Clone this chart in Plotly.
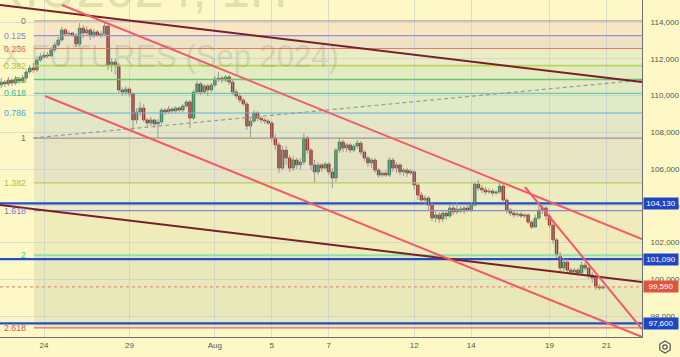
import plotly.graph_objects as go

# ---------------- data (hourly bars; bar 0 = first bar of Jul 24) ----------------
bars = list(range(-12, 158))

opens = [
    110570, 110730, 110630, 110840,
    110680, 110900, 110790, 110950, 111280, 111500, 111390, 111930,
    112100, 112200, 112150, 112480, 112750, 113020, 113570, 113350,
    113400, 113290, 112800, 113670, 113400, 113570, 113240, 113460,
    113290, 113350, 113780, 111610, 111820, 111660, 110300, 110190,
    110350, 110080, 108670, 109100, 109320, 108670, 108500, 108670,
    108450, 108560, 109210, 109100, 109260, 109160, 109320, 109210,
    109430, 109650, 108770, 110190, 110630, 110190, 110520, 110300,
    110570, 110900, 110950, 110840, 111010, 110730, 110190, 109970,
    109750, 109540, 108340, 108610, 109050, 108770, 108670, 108610,
    108500, 107690, 107310, 106050, 107030, 106600, 106050, 106490,
    106220, 106380, 107690, 107030, 106220, 105840, 106220, 106050,
    106270, 105840, 105510, 107030, 107470, 107140, 107310, 107030,
    107250, 107410, 106920, 106600, 106330, 106490, 105940, 105670,
    105780, 105670, 106490, 106050, 106220, 105840, 105940, 105780,
    105840, 105130, 104580, 104310, 104420, 104040, 103330, 103500,
    103280, 103600, 103440, 103880, 103660, 103820, 103710, 103880,
    103770, 104040, 105180, 104960, 104860, 104750, 104800, 104690,
    104750, 105070, 104310, 103770, 103600, 103500, 103550, 103440,
    103500, 103110, 102840, 103330, 103770, 103880,
    103440, 102950, 102140, 101320, 100610, 100940, 100500, 100390,
    100500, 100340, 100770, 100610, 100230, 100070, 99580, 99520,
]
highs = [
    110950, 110840, 111010, 110950,
    111060, 111010, 111120, 111440, 111660, 111770, 112100, 112310,
    112370, 112370, 112640, 112910, 113180, 113730, 113670, 113510,
    113460, 113400, 113950, 113840, 113780, 113670, 113620, 113570,
    113510, 113950, 113890, 112040, 111990, 111770, 110460, 110520,
    110460, 110190, 109320, 109650, 109540, 108770, 108830, 108720,
    108720, 109320, 109320, 109430, 109370, 109430, 109430, 109540,
    109750, 109750, 110300, 110790, 110730, 110630, 110630, 110680,
    111060, 111280, 111060, 111120, 111120, 110840, 110350, 110140,
    109860, 109650, 108770, 109210, 109160, 108880, 108770, 108720,
    108610, 107900, 107470, 107250, 107250, 106760, 106710, 106600,
    106600, 107960, 107800, 107140, 106490, 106380, 106330, 106380,
    106380, 106050, 107140, 107690, 107580, 107410, 107410, 107360,
    107580, 107520, 107030, 106710, 106600, 106600, 106050, 105890,
    105940, 106650, 106600, 106380, 106330, 106050, 106050, 106000,
    105940, 105240, 104750, 104580, 104530, 104150, 103710, 103660,
    103770, 103710, 104040, 104150, 104200, 103990, 103990, 104040,
    104200, 105290, 105400, 105130, 105020, 104960, 104910, 104860,
    105290, 105180, 104420, 103880, 103710, 103660, 103660, 103600,
    103600, 103220, 103500, 103990, 104040, 103990,
    103550, 103110, 102240, 101480, 101160, 101100, 100610, 100610,
    100610, 100940, 100940, 100720, 100390, 100180, 99740, 99690,
]
lows = [
    110410, 110460, 110520, 110520,
    110570, 110630, 110680, 110840, 111170, 111220, 111280, 111820,
    111990, 112040, 112100, 112370, 112640, 112910, 113240, 113240,
    113180, 112640, 112690, 113130, 113240, 113020, 113130, 113180,
    113130, 113240, 111390, 111280, 111120, 110140, 109970, 110030,
    109920, 108120, 108450, 108880, 108560, 108280, 108340, 108230,
    107690, 108450, 108940, 108990, 109050, 109050, 109100, 109100,
    109320, 108230, 108670, 110080, 110030, 110080, 109970, 110190,
    110460, 110730, 110680, 110730, 110570, 110030, 109810, 109590,
    109430, 108120, 107740, 108500, 108610, 108500, 108450, 108390,
    107470, 107030, 105780, 105940, 106220, 105840, 105890, 106000,
    105940, 106220, 106820, 105940, 105290, 105670, 105840, 105940,
    105670, 104960, 105290, 106870, 106920, 106920, 106870, 106920,
    107090, 106760, 106430, 106110, 106050, 105780, 105510, 105560,
    105560, 105560, 105840, 105780, 105670, 105620, 105560, 105670,
    104860, 104310, 104150, 104040, 103770, 103170, 103110, 103060,
    103110, 103220, 103330, 103500, 103550, 103600, 103550, 103660,
    103660, 103930, 104800, 104690, 104580, 104640, 104530, 104580,
    104640, 104150, 103550, 103440, 103330, 103390, 103330, 103330,
    103010, 102730, 102790, 103220, 103550, 103220,
    102790, 101920, 101160, 100450, 100450, 100390, 100230, 100280,
    100180, 100230, 100450, 100010, 99800, 99410, 99410, 99470,
]
closes = [
    110730, 110630, 110840, 110680,
    110900, 110790, 110950, 111280, 111500, 111390, 111930, 112100,
    112200, 112150, 112480, 112750, 113020, 113570, 113350, 113400,
    113290, 112800, 113670, 113400, 113570, 113240, 113460, 113290,
    113350, 113780, 111610, 111820, 111660, 110300, 110190, 110350,
    110080, 108670, 109100, 109320, 108670, 108500, 108670, 108450,
    108560, 109210, 109100, 109260, 109160, 109320, 109210, 109430,
    109650, 108770, 110190, 110630, 110190, 110520, 110300, 110570,
    110900, 110950, 110840, 111010, 110730, 110190, 109970, 109750,
    109540, 108340, 108610, 109050, 108770, 108670, 108610, 108500,
    107690, 107310, 106050, 107030, 106600, 106050, 106490, 106220,
    106380, 107690, 107030, 106220, 105840, 106220, 106050, 106270,
    105840, 105510, 107030, 107470, 107140, 107310, 107030, 107250,
    107410, 106920, 106600, 106330, 106490, 105940, 105670, 105780,
    105670, 106490, 106050, 106220, 105840, 105940, 105780, 105890,
    105130, 104580, 104310, 104420, 104040, 103330, 103500, 103280,
    103600, 103440, 103880, 103660, 103820, 103710, 103880, 103770,
    104040, 105180, 104960, 104860, 104750, 104800, 104690, 104750,
    105070, 104310, 103770, 103600, 103500, 103550, 103440, 103500,
    103110, 102840, 103330, 103770, 103880, 103440,
    102950, 102140, 101320, 100610, 100940, 100500, 100390, 100500,
    100340, 100770, 100610, 100230, 100070, 99580, 99520, 99590,
]

tick_bars = [0, 24, 48, 64, 80, 104, 120, 142, 158]
tick_labels = ["24", "29", "Aug", "5", "7", "12", "14", "19", "21"]
price_ticks = [98000, 100000, 102000, 104000, 106000, 108000, 110000, 112000, 114000]

# Fibonacci tool (anchor bar and the 0 / 1 prices)
fib_start_bar = -2.8
fib_price_0 = 114060
fib_price_1 = 107680
fib_ratios = [0, 0.125, 0.236, 0.382, 0.5, 0.618, 0.786, 1, 1.382, 1.618, 2, 2.618]
fib_labels = ["0", "0.125", "0.236", "0.382", "0.5", "0.618", "0.786", "1", "1.382", "1.618", "2", "2.618"]

# trend lines: (bar, price) endpoints
maroon_top_bars, maroon_top_prices = [-12.36, 167.98], [114925, 110734]
maroon_low_bars, maroon_low_prices = [-12.36, 167.98], [104040, 99850]
red_upper_bars, red_upper_prices = [5.06, 167.98], [114925, 102190]
red_lower_bars, red_lower_prices = [0.28, 167.98], [109970, 96860]
red_steep_bars, red_steep_prices = [135.1, 167.98], [105020, 97290]
dash_bars, dash_prices = [-3.09, 167.98], [107687, 110843]

blue_levels = [104130, 101090, 97600]
last_price = 99590

# ---------------- styling ----------------
W, H = 680, 357
ML, MR, MT, MB = 0, 38, 0, 20
PW, PH = W - ML - MR, H - MT - MB
X_RANGE = [-12.36, 167.98]
Y_RANGE = [96857, 115197]
BG = "#fdf8c6"
FONT = "Liberation Sans"

def pp(px, py):
    return (px - ML) / PW, (MT + PH - py) / PH

fib_line_colors = ["#a09c92", "#9b8fe0", "#e07a68", "#b7d65c", "#6cc46c", "#52c4a2",
                   "#62b2dc", "#9a9890", "#b4d25a", "#8a86dc", "#8ee0ac", "#e86a62"]
fib_text_colors = ["#7d7b76", "#8a7fdc", "#dc6a55", "#a4c83a", "#4caf50", "#2ebf91",
                   "#4aa3df", "#6e6d68", "#a6c63c", "#7a76d0", "#3ec99a", "#e8574c"]
fib_line_widths = [1, 1.2, 1, 1.8, 1.3, 1, 1, 1.2, 1.3, 1.2, 2, 1.3]
band_colors = ["#fbe6c2", "#ede1c6", "#eaecc4", "#e3ecc0", "#e2ebc4", "#e2e9c7",
               "#e4e7c7", "#e6e4c3", "#edebc0", "#efecba", "#e9e8b8"]

fig = go.Figure()
shapes = []

fib_prices = [fib_price_0 - r * (fib_price_0 - fib_price_1) for r in fib_ratios]
for k in range(len(fib_prices) - 1):
    shapes.append(dict(type="rect", xref="x", yref="y", layer="below",
                       x0=fib_start_bar, x1=X_RANGE[1], y0=fib_prices[k], y1=fib_prices[k + 1],
                       fillcolor=band_colors[k], line=dict(width=0)))

# fib level lines
for p, c, w in zip(fib_prices, fib_line_colors, fib_line_widths):
    fig.add_trace(go.Scatter(x=[fib_start_bar, X_RANGE[1]], y=[p, p], mode="lines",
                             line=dict(color=c, width=w), hoverinfo="skip", showlegend=False))

# grey dashed trend
fig.add_trace(go.Scatter(x=dash_bars, y=dash_prices, mode="lines",
                         line=dict(color="#9a9a94", width=1.2, dash="4px,3px"),
                         hoverinfo="skip", showlegend=False))

# blue horizontal levels
for p in blue_levels:
    fig.add_trace(go.Scatter(x=X_RANGE, y=[p, p], mode="lines",
                             line=dict(color="#1f4fcf", width=2.2), hoverinfo="skip", showlegend=False))

# last price dotted
fig.add_trace(go.Scatter(x=X_RANGE, y=[last_price, last_price], mode="lines",
                         line=dict(color="#e8907a", width=1.2, dash="dot"),
                         hoverinfo="skip", showlegend=False))

# candles: grey wicks + coloured bodies
wick_x, wick_y = [], []
for b, h, l in zip(bars, highs, lows):
    wick_x += [b, b, None]
    wick_y += [h, l, None]
fig.add_trace(go.Scatter(x=wick_x, y=wick_y, mode="lines", line=dict(color="#9b9b96", width=1),
                         hoverinfo="skip", showlegend=False))
up = [c >= o for o, c in zip(opens, closes)]
fig.add_trace(go.Bar(
    x=bars, base=[min(o, c) for o, c in zip(opens, closes)],
    y=[abs(c - o) for o, c in zip(opens, closes)], width=0.74,
    marker=dict(color=["#3a8f60" if u else "#b52c26" for u in up],
                line=dict(color=["#27663f" if u else "#7a1c18" for u in up], width=0.6)),
    hoverinfo="skip", showlegend=False))

# trend lines on top
for bx, py, col in [(maroon_top_bars, maroon_top_prices, "#7a1f28"),
                    (maroon_low_bars, maroon_low_prices, "#7a1f28"),
                    (red_upper_bars, red_upper_prices, "#f25a6a"),
                    (red_lower_bars, red_lower_prices, "#f25a6a"),
                    (red_steep_bars, red_steep_prices, "#f25a6a")]:
    fig.add_trace(go.Scatter(x=bx, y=py, mode="lines", line=dict(color=col, width=2),
                             hoverinfo="skip", showlegend=False))

annotations = []
# watermark
x1, y1 = pp(290, -11)
annotations.append(dict(xref="paper", yref="paper", x=x1, y=y1, xanchor="right", yanchor="middle",
                        text="RIU2024, 1H", showarrow=False,
                        font=dict(family=FONT, size=52, color="rgba(120,118,100,0.2)")))
x2, y2 = pp(341, 57)
annotations.append(dict(xref="paper", yref="paper", x=x2, y=y2, xanchor="right", yanchor="middle",
                        text="RTS INDEX FUTURES (Sep 2024)", showarrow=False,
                        font=dict(family=FONT, size=31, color="rgba(120,118,100,0.2)")))

# fib labels
lx, _ = pp(28, 0)
for p, t, c in zip(fib_prices, fib_labels, fib_text_colors):
    annotations.append(dict(xref="paper", yref="y", x=lx, y=p, xanchor="right", yanchor="middle",
                            text=t, showarrow=False, font=dict(family=FONT, size=8.8, color=c)))

# price labels on axis
for p, col in [(blue_levels[0], "#1c47c6"), (blue_levels[1], "#1c47c6"),
               (last_price, "#e2533f"), (blue_levels[2], "#1c47c6")]:
    annotations.append(dict(xref="paper", yref="y", x=1, y=p, xanchor="left", yanchor="middle",
                            xshift=1, text=f"{p:,}", showarrow=False, bgcolor=col,
                            width=34, height=11, borderpad=0,
                            font=dict(family=FONT, size=8, color="white")))

# settings icon
cx, cy, r = 665, 347, 6
hexpts = [(cx, cy - r), (cx + 5.2, cy - 3), (cx + 5.2, cy + 3), (cx, cy + r), (cx - 5.2, cy + 3), (cx - 5.2, cy - 3)]
path = "M " + " L ".join(f"{pp(a, b)[0]},{pp(a, b)[1]}" for a, b in hexpts) + " Z"
shapes.append(dict(type="path", xref="paper", yref="paper", path=path, line=dict(color="#555", width=1.2)))
c0 = pp(cx - 2.2, cy - 2.2); c1 = pp(cx + 2.2, cy + 2.2)
shapes.append(dict(type="circle", xref="paper", yref="paper", x0=c0[0], y0=c1[1], x1=c1[0], y1=c0[1],
                   line=dict(color="#555", width=1.2)))

fig.update_layout(
    width=W, height=H, margin=dict(l=ML, r=MR, t=MT, b=MB, autoexpand=False),
    paper_bgcolor=BG, plot_bgcolor=BG, shapes=shapes, annotations=annotations,
    showlegend=False, hovermode=False, barmode="overlay",
    xaxis=dict(range=X_RANGE, tickvals=tick_bars, ticktext=tick_labels,
               showgrid=True, gridcolor="rgba(185,196,210,0.5)", gridwidth=1, zeroline=False,
               showline=True, linecolor="#6e6e6e", linewidth=1, ticks="",
               tickfont=dict(family=FONT, size=8, color="#555"), fixedrange=True),
    yaxis=dict(range=Y_RANGE, side="right", tickvals=price_ticks, tickformat=",d",
               showgrid=True, gridcolor="rgba(185,196,210,0.5)", gridwidth=1, zeroline=False,
               showline=True, linecolor="#6e6e6e", linewidth=1, ticks="", ticklabelstandoff=6,
               tickfont=dict(family=FONT, size=8, color="#555"), fixedrange=True),
)

fig.write_html("out.html", config={"displayModeBar": False},
               post_script="document.body.style.margin='0';document.body.style.overflow='hidden';")
